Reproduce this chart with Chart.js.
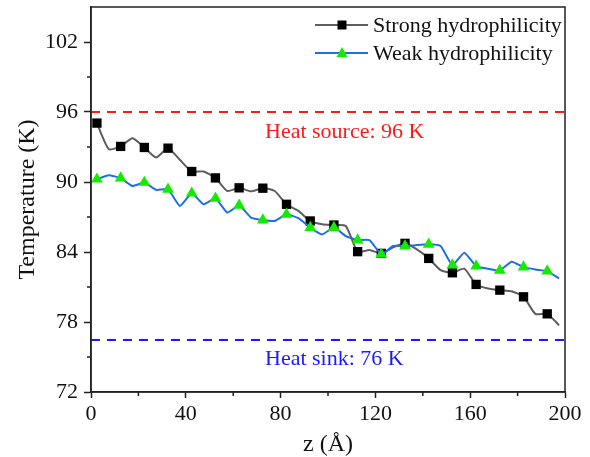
<!DOCTYPE html>
<html lang="en">
<head>
<meta charset="UTF-8">
<title>Temperature profile</title>
<script src="https://cdn.jsdelivr.net/npm/chart.js"></script>
<style>
  html, body { margin: 0; padding: 0; background: #fff; }
  canvas { display: block; }
</style>
</head>
<body>
<canvas id="chart" width="590" height="457"></canvas>
<script>
// z positions of the sampled bins (Å)
const zPos = [2.5, 7.5, 12.5, 17.5, 22.5, 27.5, 32.5, 37.5, 42.5, 47.5,
  52.5, 57.5, 62.5, 67.5, 72.5, 77.5, 82.5, 87.5, 92.5, 97.5,
  102.5, 107.5, 112.5, 117.5, 122.5, 127.5, 132.5, 137.5, 142.5, 147.5,
  152.5, 157.5, 162.5, 167.5, 172.5, 177.5, 182.5, 187.5, 192.5, 197.5];

// temperature (K)
const strongTemp = [95.05, 92.82, 93.05, 93.76, 92.96, 92.1, 92.9, 91.9, 90.9, 90.9,
  90.35, 89.23, 89.5, 89.2, 89.47, 89.23, 88.09, 87.52, 86.66, 86.37,
  86.31, 86.23, 84.03, 84.17, 83.88, 84.4, 84.74, 84.22, 83.45, 82.45,
  82.22, 82.57, 81.22, 80.87, 80.73, 80.64, 80.16, 78.7, 78.7, 77.72];
const weakTemp = [90.24, 90.58, 90.33, 89.66, 89.96, 89.32, 89.38, 87.95, 89.04, 88.09,
  88.6, 87.38, 88.0, 86.95, 86.74, 86.66, 87.23, 86.9, 86.09, 85.51,
  86.09, 85.37, 85.02, 85.02, 83.8, 84.51, 84.51, 84.6, 84.66, 84.51,
  82.88, 83.94, 82.79, 82.57, 82.42, 83.17, 82.7, 82.5, 82.36, 81.73];

const heatSource = 96;
const heatSink = 76.45;
const zRange = [0, 200];

const xTicks = [0, 40, 80, 120, 160, 200];
const xMinorTicks = [20, 60, 100, 140, 180];
const yTicks = [72, 78, 84, 90, 96, 102];
const yMinorTicks = [75, 81, 87, 93, 99];

const serif = "'Liberation Serif', 'Times New Roman', serif";
const axisColor = '#222';
const greenMark = '#14eb00';

const toPoints = (ys) => zPos.map((z, i) => ({ x: z, y: ys[i] }));
const everyOther = (r) => (ctx) => (ctx.dataIndex % 2 === 0 ? r : 0);

// frame, minor ticks, legend and reference labels
const extras = {
  id: 'extras',
  afterDraw(chart) {
    const { ctx, chartArea: a, scales: { x, y } } = chart;
    ctx.save();
    ctx.strokeStyle = axisColor;
    ctx.lineWidth = 1.5;
    ctx.strokeRect(a.left, a.top, a.right - a.left, a.bottom - a.top);

    ctx.beginPath();
    xMinorTicks.forEach(v => {
      const px = x.getPixelForValue(v);
      ctx.moveTo(px, a.bottom);
      ctx.lineTo(px, a.bottom + 4);
    });
    yMinorTicks.forEach(v => {
      const py = y.getPixelForValue(v);
      ctx.moveTo(a.left, py);
      ctx.lineTo(a.left - 4, py);
    });
    ctx.stroke();

    // reference labels
    ctx.font = '22px ' + serif;
    ctx.textAlign = 'left';
    ctx.textBaseline = 'middle';
    ctx.fillStyle = '#ff1a1a';
    ctx.fillText('Heat source: ' + heatSource + ' K', 265, y.getPixelForValue(heatSource) + 20);
    ctx.fillStyle = '#1a1aff';
    ctx.fillText('Heat sink: 76 K', 265, y.getPixelForValue(heatSink) + 19);

    // legend
    const items = chart.data.datasets.filter(d => d.legend);
    ctx.font = '22px ' + serif;
    items.forEach((d, i) => {
      const ly = 25 + i * 28;
      ctx.strokeStyle = d.borderColor;
      ctx.lineWidth = 2;
      ctx.beginPath();
      ctx.moveTo(315, ly);
      ctx.lineTo(368, ly);
      ctx.stroke();
      ctx.fillStyle = d.pointBackgroundColor;
      if (d.pointStyle === 'rect') {
        ctx.fillRect(337.5, ly - 4.5, 9, 9);
      } else {
        ctx.beginPath();
        ctx.moveTo(342, ly - 6);
        ctx.lineTo(347.5, ly + 4);
        ctx.lineTo(336.5, ly + 4);
        ctx.closePath();
        ctx.fill();
      }
      ctx.fillStyle = '#111';
      ctx.fillText(d.label, 373, ly + 1);
    });
    ctx.restore();
  }
};

new Chart(document.getElementById('chart'), {
  type: 'line',
  data: {
    datasets: [
      {
        label: 'Strong hydrophilicity',
        legend: true,
        data: toPoints(strongTemp),
        borderColor: '#5e5e5e',
        borderWidth: 2,
        tension: 0.2,
        pointStyle: 'rect',
        pointRadius: everyOther(6.6),
        pointBackgroundColor: '#000',
        pointBorderColor: '#000',
        pointBorderWidth: 0,
        order: 2
      },
      {
        label: 'Weak hydrophilicity',
        legend: true,
        data: toPoints(weakTemp),
        borderColor: '#1e6ee6',
        borderWidth: 2,
        tension: 0.15,
        pointStyle: 'triangle',
        pointRadius: everyOther(6.8),
        pointBackgroundColor: greenMark,
        pointBorderColor: greenMark,
        pointBorderWidth: 0,
        order: 1
      },
      {
        label: 'Heat source',
        data: zRange.map(z => ({ x: z, y: heatSource })),
        borderColor: '#ff1a1a',
        borderWidth: 2,
        borderDash: [9, 7],
        pointRadius: 0,
        order: 3
      },
      {
        label: 'Heat sink',
        data: zRange.map(z => ({ x: z, y: heatSink })),
        borderColor: '#1a1aff',
        borderWidth: 2,
        borderDash: [9, 7],
        pointRadius: 0,
        order: 3
      }
    ]
  },
  options: {
    responsive: false,
    animation: false,
    layout: { padding: { top: 7, right: 25, left: 0, bottom: 0 } },
    plugins: { legend: { display: false }, tooltip: { enabled: false } },
    scales: {
      x: {
        type: 'linear',
        min: zRange[0],
        max: zRange[1],
        afterBuildTicks: s => { s.ticks = xTicks.map(v => ({ value: v })); },
        afterFit: s => { s.height = 65; },
        grid: { drawOnChartArea: false, tickLength: 6, tickColor: axisColor, tickWidth: 1.5 },
        border: { color: axisColor, width: 1.5 },
        ticks: { color: '#111', font: { family: serif, size: 22 }, padding: 3, maxRotation: 0 },
        title: {
          display: true, text: 'z (Å)', color: '#111',
          font: { family: serif, size: 24, lineHeight: 1 },
          padding: { top: 0, bottom: 0 }
        }
      },
      y: {
        min: 72,
        max: 105,
        afterBuildTicks: s => { s.ticks = yTicks.map(v => ({ value: v })); },
        afterFit: s => { s.width = 91; s.paddingTop = 0; s.paddingBottom = 0; },
        grid: { drawOnChartArea: false, tickLength: 7, tickColor: axisColor, tickWidth: 1.5 },
        border: { color: axisColor, width: 1.5 },
        ticks: { color: '#111', font: { family: serif, size: 22 }, padding: 6 },
        title: {
          display: true, text: 'Temperature (K)', color: '#111',
          font: { family: serif, size: 24, lineHeight: 1 },
          padding: { top: 16, bottom: 0 }
        }
      }
    }
  },
  plugins: [extras]
});
</script>
</body>
</html>
